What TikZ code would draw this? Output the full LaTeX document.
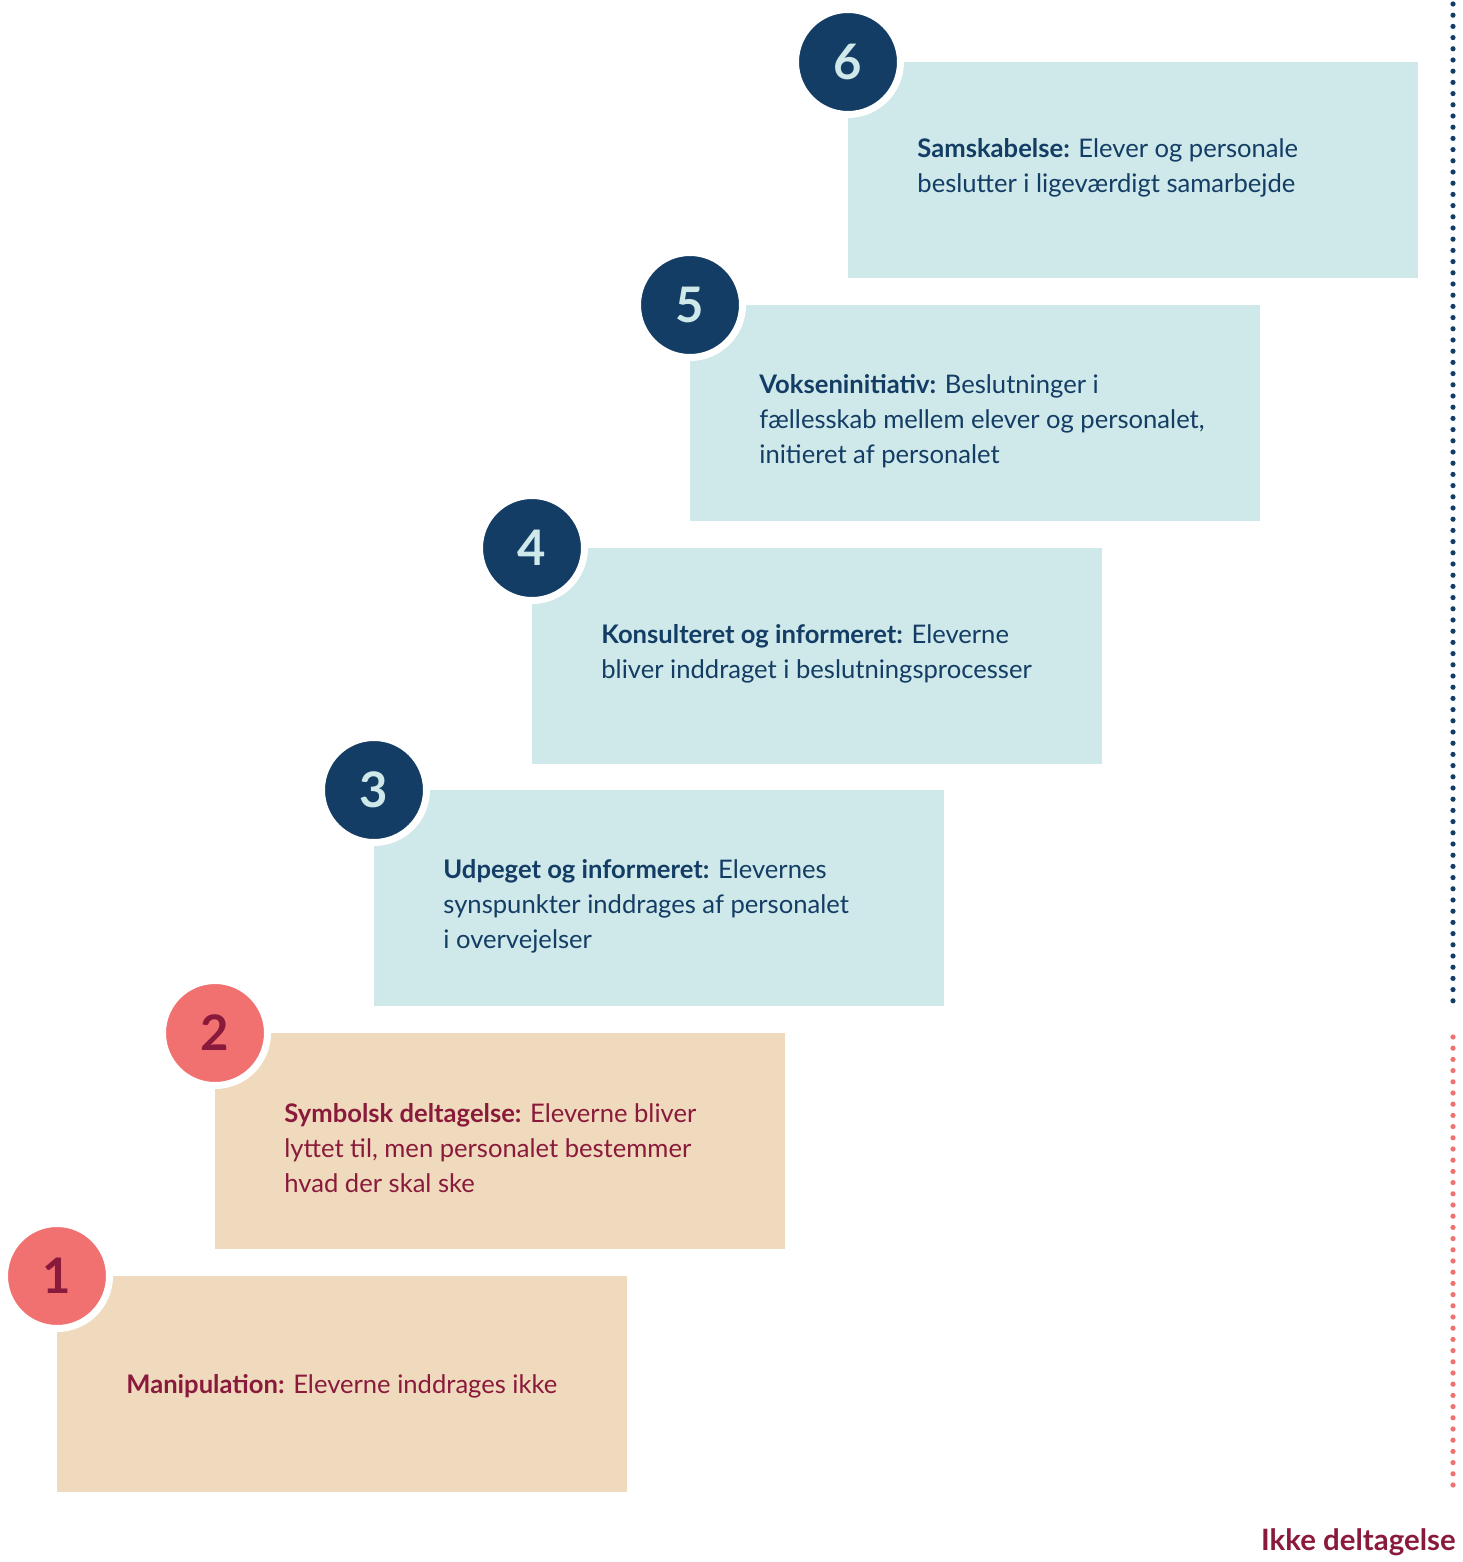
\documentclass[tikz,border=0pt]{standalone}
\usepackage{fontspec}
\setmainfont{Lato}
\usetikzlibrary{positioning}

\definecolor{navy}{HTML}{133D65}
\definecolor{paleblue}{HTML}{CFE8E9}
\definecolor{sand}{HTML}{F0DABD}
\definecolor{coral}{HTML}{F17171}
\definecolor{wine}{HTML}{8A1A3B}

\begin{document}
\begin{tikzpicture}[
    x=0.5pt, y=-0.5pt,
    % Common Styles
    stepbox/.style={
        rectangle,
        anchor=north west,
        inner sep=0pt,
        minimum width=285pt,
        minimum height=108pt
    },
    upper_box/.style={stepbox, fill=paleblue},
    lower_box/.style={stepbox, fill=sand},
    badge/.style={
        circle,
        inner sep=0pt,
        minimum size=52.5pt,
        draw=white,
        line width=3.5pt,
        font=\fontsize{24.5}{24.5}\selectfont\bfseries
    },
    upper_badge/.style={badge, fill=navy, text=paleblue},
    lower_badge/.style={badge, fill=coral, text=wine},
    % anchored at the baseline of the last line
    step_text/.style={
        anchor=base west,
        inner sep=0pt,
        align=left,
        font=\fontsize{12.8}{17.5}\selectfont
    },
    upper_text/.style={step_text, text=navy},
    lower_text/.style={step_text, text=wine},
    dots/.style={
        line width=2.6pt,
        line cap=round,
        dash pattern=on 0pt off 5.6pt
    }
]

    % Canvas
    \useasboundingbox (0,0) rectangle (1462,1562);

    % ================= BOXES =================
    \node[lower_box] (box1) at (57,1276) {};
    \node[lower_box] (box2) at (215,1033) {};
    \node[upper_box] (box3) at (374,790) {};
    \node[upper_box] (box4) at (532,548) {};
    \node[upper_box] (box5) at (690,305) {};
    \node[upper_box] (box6) at (848,62) {};

    % ================= BADGES =================
    \foreach \n in {1,2} {
        \node[lower_badge] (badge\n) at (box\n.north west) {\n};
    }
    \foreach \n in {3,...,6} {
        \node[upper_badge] (badge\n) at (box\n.north west) {\n};
    }

    % ================= TEXTS =================
    \node[lower_text] (text1) at (126,1393)
        {\textbf{Manipulation:} Eleverne inddrages ikke};
    \node[lower_text] (text2) at (284,1192)
        {\textbf{Symbolsk deltagelse:} Eleverne bliver\\
         lyttet til, men personalet bestemmer\\
         hvad der skal ske};
    \node[upper_text] (text3) at (443,948)
        {\textbf{Udpeget og informeret:} Elevernes\\
         synspunkter inddrages af personalet\\
         i overvejelser};
    \node[upper_text] (text4) at (601,678)
        {\textbf{Konsulteret og informeret:} Eleverne\\
         bliver inddraget i beslutningsprocesser};
    \node[upper_text] (text5) at (759,463)
        {\textbf{Vokseninitiativ:} Beslutninger i\\
         fællesskab mellem elever og personalet,\\
         initieret af personalet};
    \node[upper_text] (text6) at (917,193)
        {\textbf{Samskabelse:} Elever og personale\\
         beslutter i ligeværdigt samarbejde};

    % ================= SCALE =================
    \coordinate (top) at (1453,4);
    \coordinate (mid) at (1453,1007);
    \coordinate (low) at (1453,1037);
    \coordinate (end) at (1453,1493);

    \draw[dots, navy] (top) -- (mid);
    \draw[dots, coral] (low) -- (end);

    \node[anchor=base east, inner sep=0pt, text=wine,
          font=\fontsize{14.7}{14.7}\selectfont\bfseries] (none) at (1456,1550)
        {Ikke deltagelse};

\end{tikzpicture}
\end{document}
